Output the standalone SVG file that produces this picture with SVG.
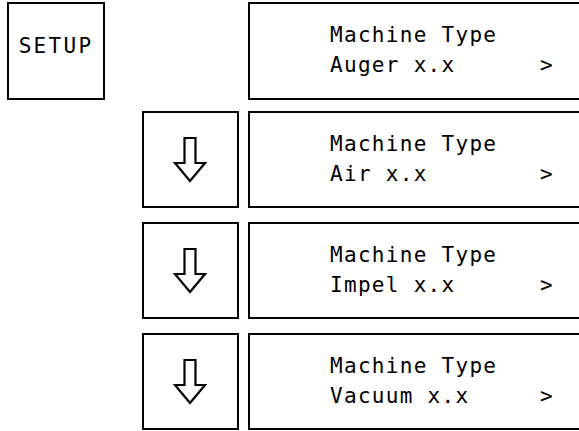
<svg xmlns="http://www.w3.org/2000/svg" width="579" height="431" viewBox="0 0 579 431">
  <style>
    .box { fill: #fff; stroke: #000; stroke-width: 2; }
    .lbl { font-family: "DejaVu Sans Mono", "Liberation Mono", monospace; font-size: 21px; fill: #000; letter-spacing: 1.3px; }
    .key { letter-spacing: 2.3px; }
    .arrow { fill: #fff; stroke: #000; stroke-width: 2.2; stroke-linejoin: miter; }
  </style>
  <defs>
    <!-- hollow down arrow, drawn around origin -->
    <path id="down" class="arrow" d="M -5.5 -21 H 5.5 V 4 H 15 L 0 22 L -15 4 H -5.5 Z"/>
  </defs>
  <rect width="579" height="431" fill="#fff"/>

  <g id="setup">
    <rect class="box" x="8" y="3" width="96" height="96"/>
    <text class="lbl key" x="56" y="53" text-anchor="middle">SETUP</text>
  </g>

  <g id="display-auger">
    <rect class="box" x="249" y="3" width="345" height="96"/>
    <text class="lbl" x="330" y="42">Machine Type</text>
    <text class="lbl" x="330" y="72">Auger x.x<tspan x="540">&gt;</tspan></text>
  </g>

  <g id="key-down-1">
    <rect class="box" x="143" y="112" width="95" height="95"/>
    <use href="#down" x="190" y="159"/>
  </g>
  <g id="display-air">
    <rect class="box" x="249" y="112" width="345" height="95"/>
    <text class="lbl" x="330" y="151">Machine Type</text>
    <text class="lbl" x="330" y="181">Air x.x<tspan x="540">&gt;</tspan></text>
  </g>

  <g id="key-down-2">
    <rect class="box" x="143" y="223" width="95" height="95"/>
    <use href="#down" x="190" y="270"/>
  </g>
  <g id="display-impel">
    <rect class="box" x="249" y="223" width="345" height="95"/>
    <text class="lbl" x="330" y="262">Machine Type</text>
    <text class="lbl" x="330" y="292">Impel x.x<tspan x="540">&gt;</tspan></text>
  </g>

  <g id="key-down-3">
    <rect class="box" x="143" y="334" width="95" height="95"/>
    <use href="#down" x="190" y="381"/>
  </g>
  <g id="display-vacuum">
    <rect class="box" x="249" y="334" width="345" height="95"/>
    <text class="lbl" x="330" y="373">Machine Type</text>
    <text class="lbl" x="330" y="403">Vacuum x.x<tspan x="540">&gt;</tspan></text>
  </g>

  <g id="connectors"></g>
</svg>
